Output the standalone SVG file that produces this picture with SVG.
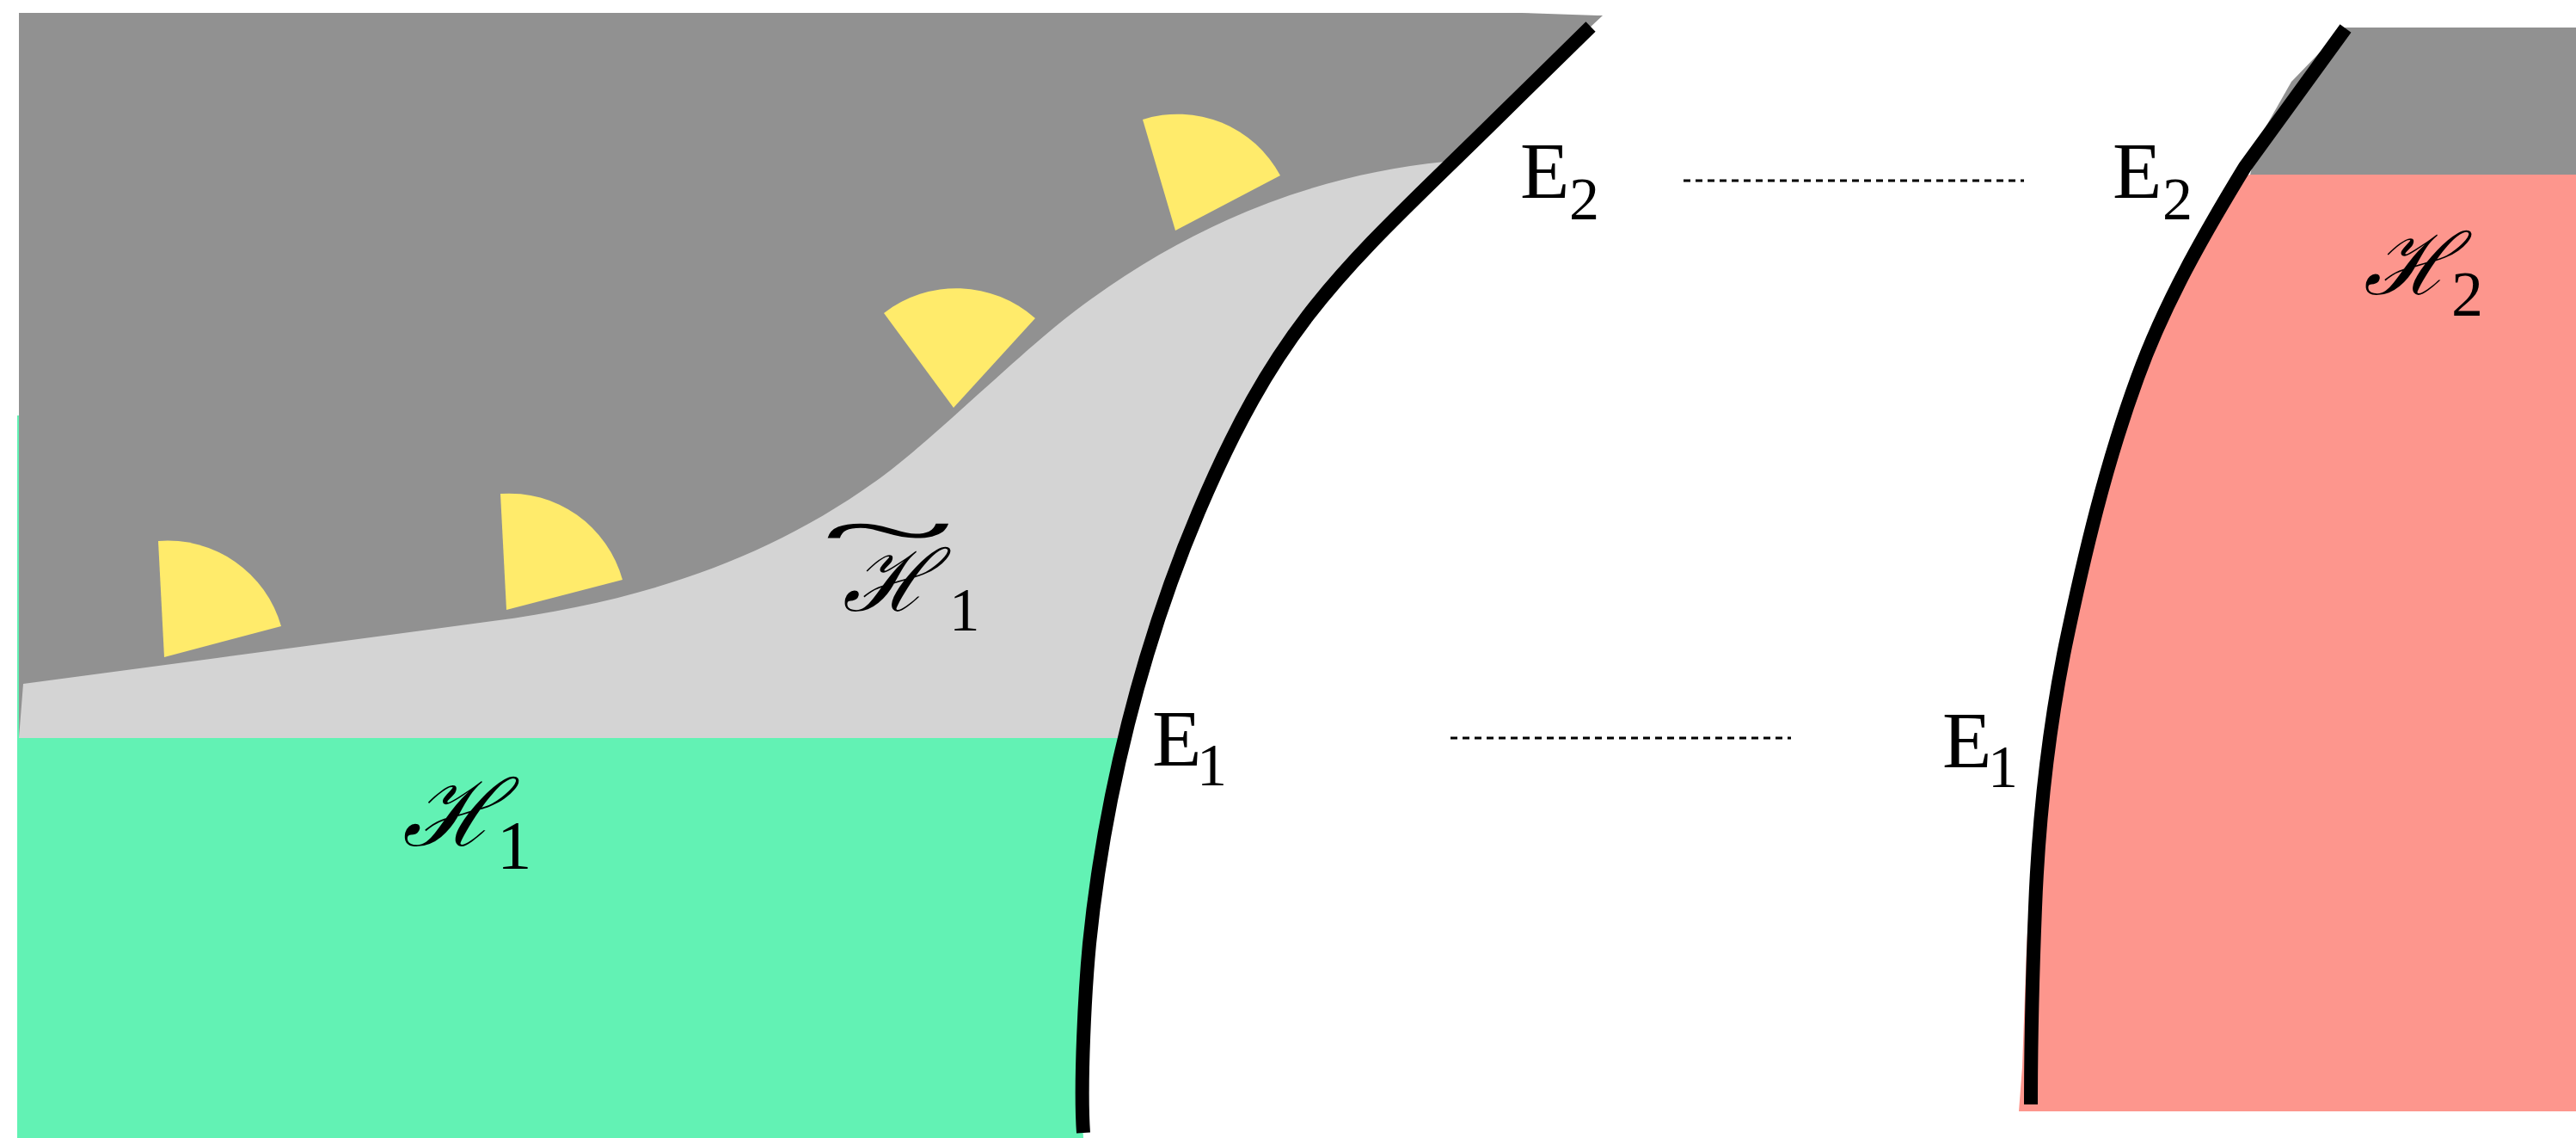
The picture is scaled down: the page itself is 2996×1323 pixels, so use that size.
<svg xmlns="http://www.w3.org/2000/svg" width="2996" height="1323" viewBox="0 0 2996 1323">
<style>
.grey{fill:#919191}
.lgrey{fill:#d4d4d4}
.green{fill:#62f2b4}
.pink{fill:#fd968d}
.sun{fill:#ffeb6b}
.edge{fill:none;stroke:#000;stroke-width:16;stroke-linecap:butt;stroke-linejoin:round}
.dot{fill:none;stroke:#000;stroke-width:3;stroke-dasharray:8 6}
.rm{font-family:"Liberation Serif","Times New Roman",serif;fill:#000}
.sc{font-family:"DejaVu Serif","Liberation Serif",serif;font-style:italic;fill:#000}
</style>
<defs>
<clipPath id="leftSide">
<path d="M0,0 L1864,0 L1864,18 L1848,33 L1745,134 C1567.5,309 1491.5,365 1394,595 C1327.7,751.4 1284,928 1267,1097 C1262,1150 1256,1260 1260,1323 L0,1323 Z"/>
</clipPath>
</defs>
<rect width="2996" height="1323" fill="#fff"/>
<g id="left-regions" clip-path="url(#leftSide)">
<path id="region-grey" class="grey" d="M22,15 L1770,15 L1858,18 L1900,18 L1900,860 L22,860 Z"/>
<path id="region-H1-tilde" class="lgrey" d="M27,795 L573,722 C741.5,699.6 893.7,652.5 1030,551 C1082,512 1176.5,421 1227,380 C1359,273 1511,205 1680,188 L1900,188 L1900,858 L22,858 Z"/>
<path id="region-H1" class="green" d="M20,483 L22,483 L22,858 L1900,858 L1900,1323 L20,1323 Z"/>
</g>
<g id="right-regions">
<path id="region-grey-right" class="grey" d="M2628,160 L2665,95 L2726,32 L2996,32 L2996,203 L2617,203 Z"/>
<path id="region-H2" class="pink" d="M2617,203 L2996,203 L2996,1292 L2348,1292 L2352,1240 L2357,1100 L2366,960 L2380,850 L2398,752 L2420,660 L2450,545 L2484,440 L2520,355 L2565,268 L2606,205 Z"/>
</g>
<g id="sectors">
<path id="sector-1" class="sun" d="M191,764 L184,629 A137,137 0 0 1 327,728 Z"/>
<path id="sector-2" class="sun" d="M589,709 L582,574 A137,137 0 0 1 724,674 Z"/>
<path id="sector-3" class="sun" d="M1109,474 L1028,364 A138,138 0 0 1 1204,370 Z"/>
<path id="sector-4" class="sun" d="M1367,268 L1329,139 A135,135 0 0 1 1489,204 Z"/>
</g>
<g id="connectors">
<path id="boundary-left" class="edge" d="M1850,31 L1745,134 C1567.5,309 1491.5,365 1394,595 C1327.7,751.4 1284,928 1267,1097 C1262,1150 1256,1260 1260,1317"/>
<path id="boundary-right" class="edge" d="M2728,33 L2611,194 C2564,271 2517,353 2486,439 C2449,540 2424,645 2402,751 C2382,851 2371,953 2367,1055 C2364,1130 2362,1210 2362,1284"/>
<line id="link-E2" class="dot" x1="1958" y1="210" x2="2354" y2="210"/>
<line id="link-E1" class="dot" x1="1687" y1="858" x2="2083" y2="858"/>
</g>
<g id="label-E2-left"><text class="rm" x="1768" y="230" font-size="94">E</text><text class="rm" x="1825" y="255" font-size="70">2</text></g>
<g id="label-E2-right"><text class="rm" x="2457" y="230" font-size="94">E</text><text class="rm" x="2515" y="255" font-size="70">2</text></g>
<g id="label-E1-left"><text class="rm" x="1340" y="890" font-size="94">E</text><text class="rm" x="1392" y="913" font-size="70">1</text></g>
<g id="label-E1-right"><text class="rm" x="2259" y="892" font-size="94">E</text><text class="rm" x="2312" y="915" font-size="70">1</text></g>
<g id="label-H1-tilde">
<text class="rm" font-size="100" text-anchor="middle" transform="translate(1033,650) scale(2.9,1)">~</text>
<text class="sc" x="1033" y="710" font-size="100" text-anchor="middle">ℋ</text>
<text class="rm" x="1104" y="733" font-size="71">1</text>
</g>
<g id="label-H1">
<text class="sc" x="525" y="983" font-size="108" text-anchor="middle">ℋ</text>
<text class="rm" x="578" y="1010" font-size="81">1</text>
</g>
<g id="label-H2">
<text class="sc" x="2802" y="342" font-size="100" text-anchor="middle">ℋ</text>
<text class="rm" x="2851" y="367" font-size="74">2</text>
</g>
</svg>
